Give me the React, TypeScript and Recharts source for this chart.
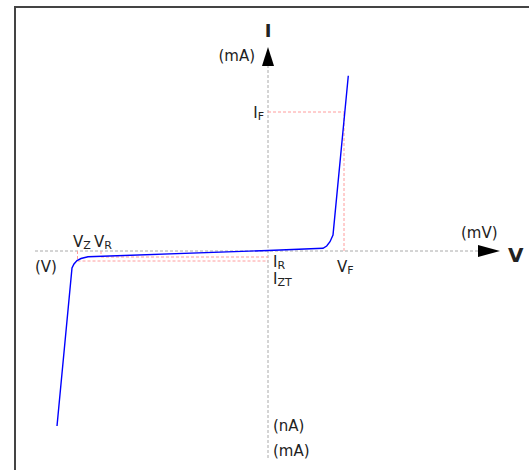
import React from "react"
import { LineChart, Line, XAxis, YAxis, ReferenceLine, ReferenceDot } from "recharts"

// diode / zener I-V curve, arbitrary units (x: voltage, y: current)
const voltage = [-21.1, -19.6, -19.4, -19.1, -18.7, -18.0, 0, 5.5, 5.87, 6.2, 6.5, 8.03]
const current = [-17.5, -1.7, -1.3, -0.95, -0.75, -0.57, 0.05, 0.27, 0.5, 0.93, 1.6, 17.53]

const data = voltage.map((v, k) => ({ v, i: current[k] }))

// characteristic points
const V_F = 7.6
const I_F = 13.9
const V_Z = -19.05
const V_R = -16.7
const I_R = -0.6
const I_ZT = -1.0

// axis extents
const X_MIN = -23.3
const X_END = 21.0
const X_TIP = 23.2
const Y_MIN = -20.7
const Y_END = 18.5
const Y_TIP = 20.4

const FONT = "DejaVu Sans"
const INK = "#222"
const AXIS = "#aaa"
const GUIDE = "#ff9c9c"

type TxtProps = {
  cx?: number
  cy?: number
  dx: number
  dy: number
  text: string
  sub?: string
  anchor?: "start" | "middle" | "end"
  size?: number
  bold?: boolean
}

function Txt({ cx = 0, cy = 0, dx, dy, text, sub, anchor = "start", size = 15, bold }: TxtProps) {
  return (
    <text
      x={cx + dx}
      y={cy + dy}
      textAnchor={anchor}
      fontFamily={FONT}
      fontSize={size}
      fontWeight={bold ? "bold" : "normal"}
      fill={INK}
    >
      {text}
      {sub && (
        <tspan fontSize={11} dy={2}>
          {sub}
        </tspan>
      )}
    </text>
  )
}

function label(x: number, y: number, p: Omit<TxtProps, "cx" | "cy">, key: string) {
  return (
    <ReferenceDot
      key={key}
      x={x}
      y={y}
      r={0}
      ifOverflow="visible"
      shape={(s: any) => <Txt cx={s.cx} cy={s.cy} {...p} />}
    />
  )
}

function arrowRight(s: any) {
  return <polygon points={`${s.cx},${s.cy} ${s.cx - 22},${s.cy - 6} ${s.cx - 22},${s.cy + 6}`} fill="#000" />
}

function arrowUp(s: any) {
  return <polygon points={`${s.cx},${s.cy} ${s.cx - 6},${s.cy + 19} ${s.cx + 6},${s.cy + 19}`} fill="#000" />
}

export default function App() {
  return (
    <div style={{ position: "absolute", left: 0, top: 0, width: 529, height: 470, overflow: "hidden", background: "#fff" }}>
      <div
        style={{
          position: "absolute",
          left: 14,
          top: 6,
          width: 600,
          height: 600,
          borderLeft: "2px solid #444",
          borderTop: "2px solid #444",
        }}
      />
      <div style={{ position: "absolute", left: 0, top: 0 }}>
        <LineChart width={529} height={470} data={data} margin={{ top: 0, right: 0, bottom: 0, left: 0 }}>
          <XAxis type="number" dataKey="v" domain={[-26.8, 26.1]} allowDataOverflow hide />
          <YAxis type="number" domain={[-21.9, 25.1]} allowDataOverflow hide />

          {/* axes */}
          <ReferenceLine segment={[{ x: X_MIN, y: 0 }, { x: X_END, y: 0 }]} stroke={AXIS} strokeDasharray="3 2" />
          <ReferenceLine segment={[{ x: 0, y: Y_MIN }, { x: 0, y: Y_END }]} stroke={AXIS} strokeDasharray="3 2" />
          <ReferenceDot x={X_TIP} y={0} r={0} ifOverflow="visible" shape={arrowRight} />
          <ReferenceDot x={0} y={Y_TIP} r={0} ifOverflow="visible" shape={arrowUp} />

          {/* guide lines */}
          <ReferenceLine segment={[{ x: 0, y: I_F }, { x: V_F, y: I_F }]} stroke={GUIDE} strokeDasharray="3 2" />
          <ReferenceLine segment={[{ x: V_F, y: 0 }, { x: V_F, y: I_F }]} stroke={GUIDE} strokeDasharray="3 2" />
          <ReferenceLine segment={[{ x: V_R, y: I_R }, { x: 0, y: I_R }]} stroke={GUIDE} strokeDasharray="3 2" />
          <ReferenceLine segment={[{ x: V_Z, y: I_ZT }, { x: 0, y: I_ZT }]} stroke={GUIDE} strokeDasharray="3 2" />
          <ReferenceLine segment={[{ x: V_R, y: 0 }, { x: V_R, y: I_R }]} stroke={GUIDE} strokeDasharray="3 2" />
          <ReferenceLine segment={[{ x: V_Z, y: 0 }, { x: V_Z, y: I_ZT }]} stroke={GUIDE} strokeDasharray="3 2" />

          <Line
            type="linear"
            dataKey="i"
            stroke="#0000ff"
            strokeWidth={1.4}
            dot={false}
            activeDot={false}
            isAnimationActive={false}
          />

          {label(0, Y_TIP, { dx: 0, dy: -10, text: "I", anchor: "middle", size: 18, bold: true }, "I")}
          {label(0, Y_TIP, { dx: -13, dy: 14, text: "(mA)", anchor: "end" }, "mA-top")}
          {label(X_TIP, 0, { dx: -39, dy: -13, text: "(mV)" }, "mV")}
          {label(X_TIP, 0, { dx: 8, dy: 10.5, text: "V", size: 20, bold: true }, "V")}
          {label(0, I_F, { dx: -4, dy: 6, text: "I", sub: "F", anchor: "end" }, "IF")}
          {label(V_F, 0, { dx: -7, dy: 20.5, text: "V", sub: "F" }, "VF")}
          {label(V_Z, 0, { dx: -4.5, dy: -4.5, text: "V", sub: "Z" }, "VZ")}
          {label(V_R, 0, { dx: -7, dy: -4.5, text: "V", sub: "R" }, "VR")}
          {label(X_MIN, 0, { dx: 0, dy: 21, text: "(V)" }, "V-unit")}
          {label(0, I_R, { dx: 5, dy: 10, text: "I", sub: "R" }, "IR")}
          {label(0, I_ZT, { dx: 5, dy: 23, text: "I", sub: "ZT" }, "IZT")}
          {label(0, Y_MIN, { dx: 5, dy: -27, text: "(nA)" }, "nA")}
          {label(0, Y_MIN, { dx: 5, dy: -2, text: "(mA)" }, "mA-bottom")}
        </LineChart>
      </div>
    </div>
  )
}
